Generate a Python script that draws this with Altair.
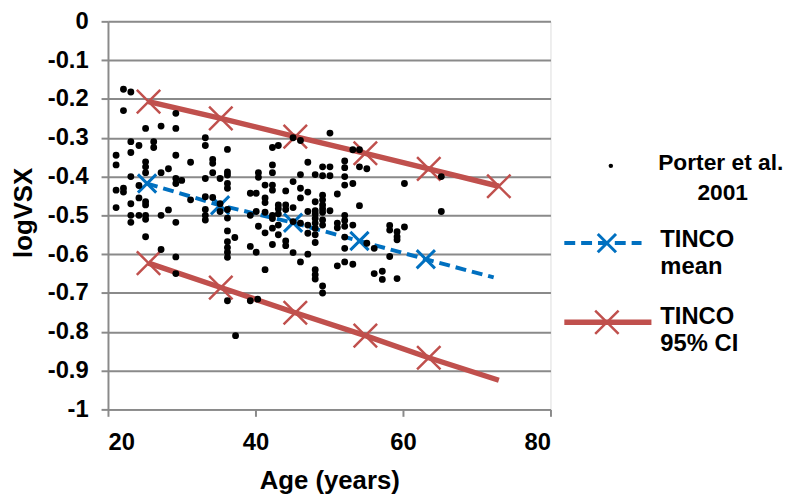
import altair as alt
import pandas as pd

# Porter et al. 2001 scatter (age in years, logVSX)
age = [22.1, 23.1, 22.1, 29.2, 25.1, 27.2, 29.2, 23.1, 24.2, 26.2, 26.2, 21.1, 23.1, 29.2, 21.1, 25.1, 25.1, 25.1,
       28.2, 27.2, 23.1, 29.2, 29.2, 24.2, 21.1, 22.1, 22.1, 24.2, 23.1, 25.1, 25.1, 21.1, 28.2, 23.1, 24.2, 25.1,
       27.2, 23.1, 25.1, 29.2, 25.1, 27.2, 29.2, 29.2,
       33.2, 33.2, 36.2, 31.2, 34.2, 34.2, 34.2, 36.2, 36.2, 30.0, 33.2, 35.2, 36.2, 36.2, 39.3, 40.1, 31.2, 33.2,
       34.2, 35.2, 35.2, 36.2, 33.2, 33.2, 33.2, 36.2, 39.3, 40.1, 36.2, 37.2, 36.2, 36.2, 36.2, 36.2, 39.3, 40.1,
       36.2, 39.3, 40.3, 37.3,
       45.1, 46.1, 50.1, 42.3, 43.1, 47.1, 49.1, 50.1, 42.3, 42.3, 40.4, 40.4, 46.1, 48.1, 49.1, 50.1, 45.1, 41.3,
       42.3, 42.3, 44.1, 46.1, 47.1, 41.3, 41.3, 43.1, 44.1, 46.1, 48.1, 49.1, 49.1, 49.1, 45.1, 43.1, 44.1, 48.1,
       49.1, 41.3, 42.3, 43.1, 42.3, 45.1, 47.1, 48.1, 49.1, 50.1, 40.4, 42.3, 43.1, 46.1, 47.1, 48.1, 48.1, 49.1,
       49.1, 41.3, 43.1, 48.1, 47.1, 48.1, 44.1, 44.1, 42.3, 48.1, 45.1, 47.1, 46.1, 41.3, 48.1, 48.1, 48.1, 49.1,
       49.1,
       53.2, 54.1, 52.1, 52.1, 54.1, 55.1, 52.1, 52.1, 53.2, 60.2, 51.1, 54.1, 52.1, 52.1, 51.1, 52.1, 53.2, 51.1,
       58.2, 58.2, 59.2, 59.2, 59.2, 60.2, 52.1, 52.1, 55.1, 56.1, 58.2, 51.1, 52.1, 53.2, 56.1, 57.2, 57.2, 59.2,
       65.2, 65.2]
logvsx = [-0.175, -0.182, -0.230, -0.237, -0.276, -0.270, -0.276, -0.310, -0.320, -0.310, -0.325, -0.345, -0.338,
          -0.345, -0.370, -0.362, -0.375, -0.390, -0.380, -0.390, -0.400, -0.405, -0.418, -0.423, -0.435, -0.430,
          -0.440, -0.455, -0.470, -0.465, -0.473, -0.480, -0.486, -0.500, -0.500, -0.500, -0.500, -0.518, -0.510,
          -0.518, -0.555, -0.588, -0.607, -0.650,
          -0.300, -0.320, -0.330, -0.363, -0.356, -0.366, -0.390, -0.388, -0.396, -0.410, -0.405, -0.405, -0.418,
          -0.430, -0.443, -0.443, -0.460, -0.452, -0.454, -0.470, -0.490, -0.485, -0.485, -0.500, -0.512, -0.507,
          -0.500, -0.490, -0.540, -0.557, -0.568, -0.583, -0.595, -0.608, -0.580, -0.595, -0.720, -0.720, -0.716,
          -0.810,
          -0.300, -0.307, -0.288, -0.325, -0.320, -0.363, -0.375, -0.375, -0.370, -0.390, -0.390, -0.402, -0.395,
          -0.395, -0.398, -0.398, -0.413, -0.422, -0.422, -0.435, -0.437, -0.430, -0.440, -0.455, -0.467, -0.473,
          -0.473, -0.455, -0.465, -0.448, -0.460, -0.473, -0.480, -0.483, -0.485, -0.488, -0.483, -0.492, -0.500,
          -0.496, -0.508, -0.516, -0.490, -0.496, -0.492, -0.488, -0.528, -0.533, -0.525, -0.520, -0.525, -0.508,
          -0.520, -0.512, -0.525, -0.545, -0.550, -0.533, -0.546, -0.550, -0.566, -0.578, -0.575, -0.570, -0.596,
          -0.600, -0.620, -0.640, -0.640, -0.653, -0.664, -0.682, -0.700,
          -0.331, -0.331, -0.360, -0.377, -0.375, -0.380, -0.400, -0.422, -0.418, -0.418, -0.445, -0.475, -0.500,
          -0.513, -0.520, -0.528, -0.525, -0.532, -0.526, -0.538, -0.542, -0.555, -0.563, -0.530, -0.556, -0.585,
          -0.572, -0.585, -0.606, -0.630, -0.620, -0.626, -0.650, -0.644, -0.665, -0.663,
          -0.400, -0.490]

# TINCO model lines
ci_upper_age = [25.5, 35.3, 45.4, 54.9, 63.5, 73.0]
ci_upper_val = [-0.207, -0.250, -0.297, -0.340, -0.380, -0.425]
ci_upper_marker = [True, True, True, True, True, True]
mean_age = [25.3, 35.2, 45.1, 54.1, 63.1, 72.3]
mean_val = [-0.418, -0.474, -0.519, -0.566, -0.613, -0.660]
mean_marker = [True, True, True, True, True, False]
ci_lower_age = [25.5, 35.3, 45.4, 54.9, 63.5, 73.0]
ci_lower_val = [-0.623, -0.686, -0.751, -0.810, -0.867, -0.925]
ci_lower_marker = [True, True, True, True, True, False]

y_ticks = [0, -0.1, -0.2, -0.3, -0.4, -0.5, -0.6, -0.7, -0.8, -0.9, -1]
x_ticks = [20, 40, 60, 80]

RED = "#C0504D"
BLUE = "#0070C0"
GRID = "#8A8A8A"
FONT = "Liberation Sans"
XPATH = "M-1,-1L1,1M-1,1L1,-1"

scatter_df = pd.DataFrame({"age": age, "val": logvsx})
upper_df = pd.DataFrame({"age": ci_upper_age, "val": ci_upper_val, "m": ci_upper_marker})
mean_df = pd.DataFrame({"age": mean_age, "val": mean_val, "m": mean_marker})
lower_df = pd.DataFrame({"age": ci_lower_age, "val": ci_lower_val, "m": ci_lower_marker})

xs = alt.Scale(domain=[20, 80], nice=False, zero=False)
ys = alt.Scale(domain=[-1, 0], nice=False, zero=False)

x_axis = alt.Axis(values=x_ticks, grid=False, title="Age (years)", labelFontSize=24, labelFont=FONT,
                  labelFontWeight="bold", labelColor="black", labelPadding=15, tickSize=7, tickColor=GRID,
                  tickWidth=2, domainColor=GRID, domainWidth=2, titleFont=FONT, titleFontSize=26,
                  titleFontWeight="bold", titleColor="black", titleX=223.5, titleY=72, titleBaseline="middle",
                  titleAlign="center")
y_axis = alt.Axis(values=y_ticks, grid=True, gridColor=GRID, gridWidth=2, title="logVSX",
                  labelExpr="datum.value == 0 ? '0' : (datum.value <= -0.999 ? '-1' : '-' + format(abs(datum.value), '.1f'))",
                  labelFontSize=24, labelFont=FONT, labelFontWeight="bold", labelColor="black", labelPadding=13,
                  tickSize=7, tickColor=GRID, tickWidth=2, domainColor=GRID, domainWidth=2, titleFont=FONT,
                  titleFontSize=26, titleFontWeight="bold", titleColor="black", titleAngle=270, titleX=-85,
                  titleY=193, titleBaseline="middle", titleAlign="center")

base_x = alt.X("age:Q", scale=xs, axis=x_axis)
base_y = alt.Y("val:Q", scale=ys, axis=y_axis)

def model_layers(df, color, dash, width, msize, mwidth):
    line_kwargs = dict(color=color, strokeWidth=width)
    if dash:
        line_kwargs["strokeDash"] = dash
    line = alt.Chart(df).mark_line(**line_kwargs).encode(x=base_x, y=base_y)
    marks = alt.Chart(df).transform_filter("datum.m").mark_point(
        shape=XPATH, filled=False, color=color, strokeWidth=mwidth, size=msize, opacity=1
    ).encode(x=base_x, y=base_y)
    return [line, marks]

layers = []
layers += model_layers(upper_df, RED, None, 5.5, 560, 2.5)
layers += model_layers(lower_df, RED, None, 5.5, 560, 2.5)
layers += model_layers(mean_df, BLUE, [11, 6], 4, 340, 3)

points = alt.Chart(scatter_df).mark_circle(color="black", size=48, opacity=1).encode(x=base_x, y=base_y)
layers.append(points)

# Legend (drawn to the right of the plot area); plot origin is at page (109, 19)
one = pd.DataFrame({"k": [0]})
leg_dot = alt.Chart(one).mark_circle(color="black", size=20, opacity=1).encode(x=alt.value(508), y=alt.value(146))
leg_blue = alt.Chart(one).mark_rule(color=BLUE, strokeWidth=4, strokeDash=[11, 6]).encode(
    x=alt.value(461), x2=alt.value(539), y=alt.value(224))
leg_blue_x = alt.Chart(one).mark_point(shape=XPATH, filled=False, color=BLUE, strokeWidth=3, size=340,
                                       opacity=1).encode(x=alt.value(504), y=alt.value(224))
leg_red = alt.Chart(one).mark_rule(color=RED, strokeWidth=5.5).encode(
    x=alt.value(461), x2=alt.value(549), y=alt.value(304))
leg_red_x = alt.Chart(one).mark_point(shape=XPATH, filled=False, color=RED, strokeWidth=2.5, size=560,
                                      opacity=1).encode(x=alt.value(504), y=alt.value(304))

def leg_text(txt, x, y, align, size=24):
    return alt.Chart(one).mark_text(text=txt, font=FONT, fontSize=size, fontWeight="bold", color="black",
                                    align=align, baseline="middle").encode(x=alt.value(x), y=alt.value(y))

layers += [leg_dot, leg_blue, leg_blue_x, leg_red, leg_red_x,
           leg_text("Porter et al.", 619, 143, "center", 23),
           leg_text("2001", 621, 173, "center", 23),
           leg_text("TINCO", 558, 221, "left"),
           leg_text("mean", 558, 248, "left"),
           leg_text("TINCO", 558, 299, "left"),
           leg_text("95% CI", 558, 326, "left")]

chart = alt.layer(*layers).properties(
    width=447, height=392,
    autosize=alt.AutoSizeParams(type="none"),
    padding={"left": 101, "top": 11, "right": 244, "bottom": 83},
).configure_view(strokeWidth=0).configure(background="white")

chart.save("out.html", embed_options={"renderer": "svg", "actions": False})
